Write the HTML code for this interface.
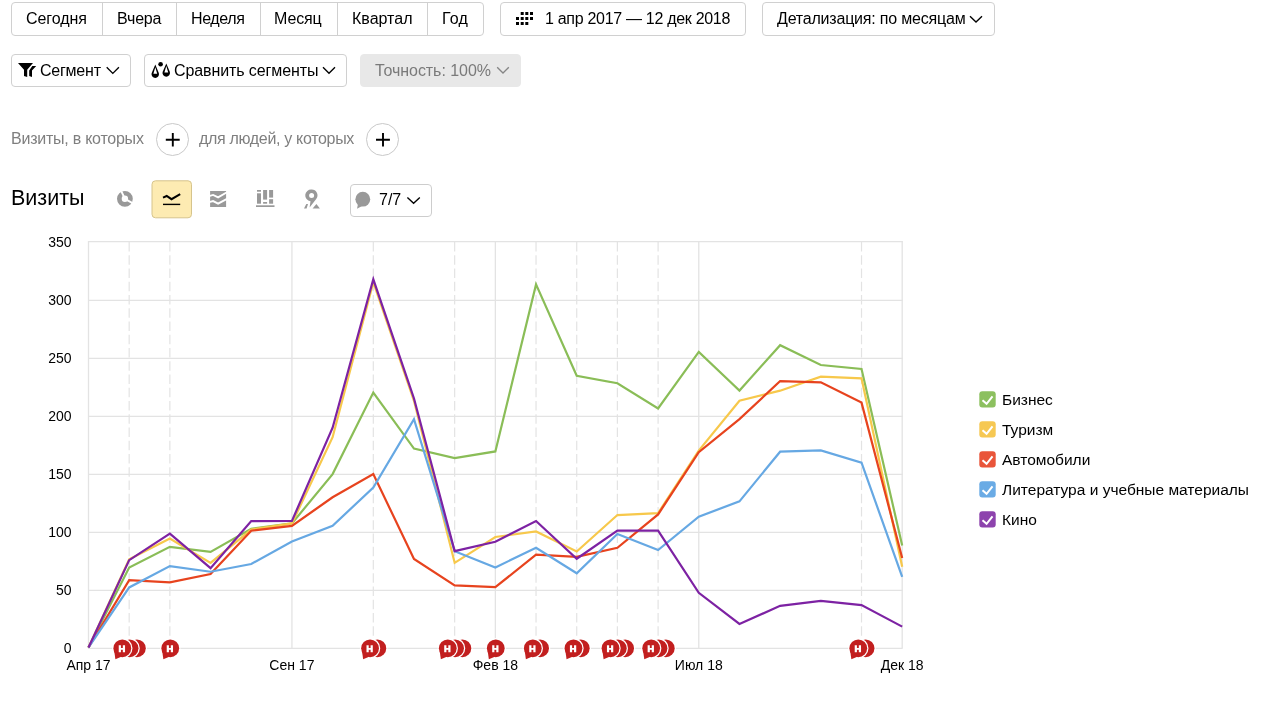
<!DOCTYPE html>
<html><head><meta charset="utf-8">
<style>
*{box-sizing:border-box;margin:0;padding:0}
html,body{width:1261px;height:725px;overflow:hidden;background:#fff}
body{position:relative;font-family:"Liberation Sans",sans-serif;color:#000;font-size:16px}
.abs{position:absolute;z-index:2}
.t{position:absolute;white-space:nowrap;line-height:1;z-index:2}
.box{position:absolute;border:1px solid #d0d0d0;border-radius:4px;background:#fff}
.dv{position:absolute;width:1px;background:#d0d0d0}
svg.chart{position:absolute;left:0;top:0}
.t,.lgt,svg.chart{will-change:transform}
.ax{font-family:"Liberation Sans",sans-serif;font-size:14px;fill:#000}
.gray{color:#7f7f7f}
.plus{position:absolute;width:33px;height:33px;border:1.2px solid #c9c9c9;border-radius:50%}
.lgt{position:absolute;left:1002px;font-size:15.5px;line-height:1;white-space:nowrap}
</style></head><body>
<!-- row1 boxes -->
<div class="box" style="left:11px;top:2px;width:473px;height:34px"></div>
<div class="dv" style="left:101.8px;top:3px;height:32px"></div>
<div class="dv" style="left:175.9px;top:3px;height:32px"></div>
<div class="dv" style="left:260px;top:3px;height:32px"></div>
<div class="dv" style="left:337px;top:3px;height:32px"></div>
<div class="dv" style="left:427px;top:3px;height:32px"></div>
<span class="t" style="left:25.7px;top:11px;letter-spacing:-0.07px">Сегодня</span>
<span class="t" style="left:116.7px;top:11px;letter-spacing:-0.17px">Вчера</span>
<span class="t" style="left:191.3px;top:11px;letter-spacing:-0.4px">Неделя</span>
<span class="t" style="left:274.3px;top:11px;letter-spacing:-0.12px">Месяц</span>
<span class="t" style="left:351.7px;top:11px">Квартал</span>
<span class="t" style="left:441.8px;top:11px;letter-spacing:0.2px">Год</span>
<div class="box" style="left:500px;top:2px;width:246px;height:34px"></div>
<svg class="abs" style="left:0;top:0" width="540" height="40" viewBox="0 0 540 40">
  <g fill="#000"><rect x="520.7" y="12" width="3" height="3"/><rect x="525.3" y="12" width="3" height="3"/><rect x="530" y="12" width="3" height="3"/><rect x="516" y="17" width="3" height="3"/><rect x="520.7" y="17" width="3" height="3"/><rect x="525.3" y="17" width="3" height="3"/><rect x="530" y="17" width="3" height="3"/><rect x="516" y="22" width="3" height="3"/><rect x="520.7" y="22" width="3" height="3"/><rect x="525.3" y="22" width="3" height="3"/></g>
</svg>
<span class="t" style="left:545px;top:11px;letter-spacing:-0.3px">1 апр 2017 — 12 дек 2018</span>
<div class="box" style="left:762px;top:2px;width:233px;height:34px"></div>
<span class="t" style="left:776.8px;top:11px;letter-spacing:-0.2px">Детализация: по месяцам</span>
<svg class="abs" style="left:0;top:0" width="1000" height="90" viewBox="0 0 1000 90">
  <g fill="none" stroke="#000" stroke-width="1.35">
  <path d="M970,16.3 L976,22 L982,16.3"/>
  <path d="M106.7,67.3 L112.8,73.4 L118.9,67.3"/>
  <path d="M323,67.3 L329,73.2 L335,67.3"/>
  </g>
  <path d="M497.2,67.3 L503,73 L508.8,67.3" fill="none" stroke="#858585" stroke-width="1.3"/>
</svg>
<!-- row2 -->
<div class="box" style="left:11px;top:54px;width:120px;height:33px"></div>
<svg class="abs" style="left:0;top:0" width="180" height="90" viewBox="0 0 180 90">
  <path d="M18,63 L33,63 L27.2,69.7 L27.2,77 L24,76 L24,69.7 Z" fill="#000"/>
  <path d="M32.3,66 L36.2,66 L32,70.4 L32,77 L29.2,76 L29.2,70.4 Z" fill="#000"/>
  <path fill-rule="evenodd" d="M155.3,64.6 L151.6,73.3 A3.75,3.75 0 1 0 158.9,73.3 Z M155.3,67.3 L153.4,73.8 L157.2,73.8 Z" fill="#000"/>
  <circle cx="160.6" cy="64.3" r="2.3" fill="#000"/>
  <path fill-rule="evenodd" d="M166.3,63.4 L162.6,72.1 A3.75,3.75 0 1 0 169.9,72.1 Z M166.3,66.1 L164.4,72.6 L168.2,72.6 Z" fill="#000"/>
</svg>
<span class="t" style="left:40px;top:63px;letter-spacing:-0.23px">Сегмент</span>
<div class="box" style="left:144px;top:54px;width:203px;height:33px"></div>
<span class="t" style="left:173.6px;top:63px;letter-spacing:-0.1px">Сравнить сегменты</span>
<div class="box" style="left:359.6px;top:54px;width:161.5px;height:33px;background:#e8e8e8;border-color:#e8e8e8"></div>
<span class="t" style="left:374.5px;top:63px;color:#7a7a7a;letter-spacing:-0.05px">Точность: 100%</span>
<!-- row3 -->
<span class="t gray" style="left:10.9px;top:131px;letter-spacing:-0.24px">Визиты, в которых</span>
<div class="plus" style="left:156.2px;top:122.8px"></div>
<span class="t gray" style="left:198.7px;top:131px;letter-spacing:-0.32px">для людей, у которых</span>
<div class="plus" style="left:366.4px;top:122.8px"></div>
<svg class="abs" style="left:0;top:0" width="420" height="160" viewBox="0 0 420 160">
  <path d="M165.8,139.7 H179.7 M172.8,133.1 V146.4" stroke="#000" stroke-width="1.9"/>
  <path d="M376,139.7 H389.9 M383,133.1 V146.4" stroke="#000" stroke-width="1.9"/>
</svg>
<!-- row4 -->
<span class="t" style="left:10.8px;top:188px;font-size:21.5px">Визиты</span>
<svg class="chart" width="1261" height="725" viewBox="0 0 1261 725">
<line x1="88" x2="902.7" y1="648.30" y2="648.30" stroke="#e3e3e3" stroke-width="1.3"/>
<line x1="88" x2="902.7" y1="590.30" y2="590.30" stroke="#e3e3e3" stroke-width="1.3"/>
<line x1="88" x2="902.7" y1="532.30" y2="532.30" stroke="#e3e3e3" stroke-width="1.3"/>
<line x1="88" x2="902.7" y1="474.30" y2="474.30" stroke="#e3e3e3" stroke-width="1.3"/>
<line x1="88" x2="902.7" y1="416.30" y2="416.30" stroke="#e3e3e3" stroke-width="1.3"/>
<line x1="88" x2="902.7" y1="358.30" y2="358.30" stroke="#e3e3e3" stroke-width="1.3"/>
<line x1="88" x2="902.7" y1="300.30" y2="300.30" stroke="#e3e3e3" stroke-width="1.3"/>
<line x1="88" x2="902.7" y1="241.60" y2="241.60" stroke="#e3e3e3" stroke-width="1.3"/>
<line x1="88.50" x2="88.50" y1="241" y2="648" stroke="#e3e3e3" stroke-width="1.3"/>
<line x1="291.93" x2="291.93" y1="241" y2="648" stroke="#e3e3e3" stroke-width="1.3"/>
<line x1="495.35" x2="495.35" y1="241" y2="648" stroke="#e3e3e3" stroke-width="1.3"/>
<line x1="698.78" x2="698.78" y1="241" y2="648" stroke="#e3e3e3" stroke-width="1.3"/>
<line x1="902.20" x2="902.20" y1="241" y2="648" stroke="#e3e3e3" stroke-width="1.3"/>
<line x1="129.19" x2="129.19" y1="242" y2="647" stroke="#e3e3e3" stroke-width="1.2" stroke-dasharray="9.5,3.75"/>
<line x1="169.87" x2="169.87" y1="242" y2="647" stroke="#e3e3e3" stroke-width="1.2" stroke-dasharray="9.5,3.75"/>
<line x1="373.30" x2="373.30" y1="242" y2="647" stroke="#e3e3e3" stroke-width="1.2" stroke-dasharray="9.5,3.75"/>
<line x1="454.67" x2="454.67" y1="242" y2="647" stroke="#e3e3e3" stroke-width="1.2" stroke-dasharray="9.5,3.75"/>
<line x1="536.04" x2="536.04" y1="242" y2="647" stroke="#e3e3e3" stroke-width="1.2" stroke-dasharray="9.5,3.75"/>
<line x1="576.72" x2="576.72" y1="242" y2="647" stroke="#e3e3e3" stroke-width="1.2" stroke-dasharray="9.5,3.75"/>
<line x1="617.40" x2="617.40" y1="242" y2="647" stroke="#e3e3e3" stroke-width="1.2" stroke-dasharray="9.5,3.75"/>
<line x1="658.09" x2="658.09" y1="242" y2="647" stroke="#e3e3e3" stroke-width="1.2" stroke-dasharray="9.5,3.75"/>
<line x1="861.52" x2="861.52" y1="242" y2="647" stroke="#e3e3e3" stroke-width="1.2" stroke-dasharray="9.5,3.75"/>
<text x="71.5" y="652.5" text-anchor="end" class="ax">0</text>
<text x="71.5" y="594.5" text-anchor="end" class="ax">50</text>
<text x="71.5" y="536.5" text-anchor="end" class="ax">100</text>
<text x="71.5" y="478.5" text-anchor="end" class="ax">150</text>
<text x="71.5" y="420.5" text-anchor="end" class="ax">200</text>
<text x="71.5" y="362.5" text-anchor="end" class="ax">250</text>
<text x="71.5" y="304.5" text-anchor="end" class="ax">300</text>
<text x="71.5" y="246.5" text-anchor="end" class="ax">350</text>
<text x="88.5" y="670" text-anchor="middle" class="ax">Апр 17</text>
<text x="291.9" y="670" text-anchor="middle" class="ax">Сен 17</text>
<text x="495.4" y="670" text-anchor="middle" class="ax">Фев 18</text>
<text x="698.8" y="670" text-anchor="middle" class="ax">Июл 18</text>
<text x="902.2" y="670" text-anchor="middle" class="ax">Дек 18</text>
<polyline points="88.50,647.50 129.19,567.46 169.87,546.81 210.56,551.92 251.24,528.72 291.93,523.38 332.61,474.08 373.30,392.53 413.98,448.56 454.67,458.07 495.35,451.46 536.04,284.42 576.72,375.71 617.40,383.25 658.09,408.42 698.78,351.93 739.46,390.56 780.14,345.20 820.83,365.04 861.52,368.98 902.20,545.42" fill="none" stroke="#8abd57" stroke-width="2.2" stroke-linejoin="miter"/>
<polyline points="88.50,647.50 129.19,559.34 169.87,538.46 210.56,562.82 251.24,529.53 291.93,523.38 332.61,437.19 373.30,282.10 413.98,400.77 454.67,562.82 495.35,536.95 536.04,531.50 576.72,551.45 617.40,515.03 658.09,513.06 698.78,450.65 739.46,400.77 780.14,390.68 820.83,376.64 861.52,378.38 902.20,566.65" fill="none" stroke="#f7c84b" stroke-width="2.2" stroke-linejoin="miter"/>
<polyline points="88.50,647.50 129.19,580.10 169.87,582.31 210.56,574.07 251.24,530.69 291.93,525.82 332.61,497.28 373.30,474.08 413.98,558.99 454.67,585.44 495.35,587.18 536.04,554.70 576.72,556.90 617.40,547.74 658.09,514.45 698.78,452.16 739.46,419.10 780.14,381.05 820.83,382.32 861.52,402.62 902.20,557.95" fill="none" stroke="#e7431e" stroke-width="2.2" stroke-linejoin="miter"/>
<polyline points="88.50,647.50 129.19,587.41 169.87,566.07 210.56,571.75 251.24,563.98 291.93,541.59 332.61,525.82 373.30,487.65 413.98,419.10 454.67,551.22 495.35,567.46 536.04,547.74 576.72,573.26 617.40,534.05 658.09,550.06 698.78,516.77 739.46,501.34 780.14,451.69 820.83,450.42 861.52,462.71 902.20,576.86" fill="none" stroke="#66a8e3" stroke-width="2.2" stroke-linejoin="miter"/>
<polyline points="88.50,647.50 129.19,560.15 169.87,533.59 210.56,568.16 251.24,521.06 291.93,520.94 332.61,427.68 373.30,279.32 413.98,398.45 454.67,551.10 495.35,541.71 536.04,521.06 576.72,558.76 617.40,530.57 658.09,530.57 698.78,592.86 739.46,623.95 780.14,605.86 820.83,600.98 861.52,605.04 902.20,626.62" fill="none" stroke="#7d22a3" stroke-width="2.2" stroke-linejoin="miter"/>
<defs><g id="mkb"><circle r="8.9" fill="#c21f1f" stroke="#fff" stroke-width="2.6"/><circle r="8.9" fill="#c21f1f"/></g><g id="mk"><g stroke="#fff" stroke-width="2.6" fill="#c21f1f"><circle r="8.9"/><path d="M-8,3.2 L-6.9,11 L-1,8.5 Z"/></g><circle r="8.9" fill="#c21f1f"/><path d="M-8,3.2 L-6.9,11 L-1,8.5 Z" fill="#c21f1f"/><path d="M-2.45,-3.1 V4.0 M1.65,-3.1 V4.0" stroke="#fff" stroke-width="2.2" fill="none"/><path d="M-2.45,0.6 H1.65" stroke="#fff" stroke-width="1.8"/></g></defs>
<use href="#mkb" x="136.89" y="648.3"/>
<use href="#mkb" x="129.59" y="648.3"/>
<use href="#mk" x="122.29" y="648.3"/>
<use href="#mk" x="170.27" y="648.3"/>
<use href="#mkb" x="377.35" y="648.3"/>
<use href="#mk" x="370.05" y="648.3"/>
<use href="#mkb" x="462.37" y="648.3"/>
<use href="#mkb" x="455.06" y="648.3"/>
<use href="#mk" x="447.76" y="648.3"/>
<use href="#mk" x="495.75" y="648.3"/>
<use href="#mkb" x="540.09" y="648.3"/>
<use href="#mk" x="532.79" y="648.3"/>
<use href="#mkb" x="580.77" y="648.3"/>
<use href="#mk" x="573.47" y="648.3"/>
<use href="#mkb" x="625.11" y="648.3"/>
<use href="#mkb" x="617.80" y="648.3"/>
<use href="#mk" x="610.50" y="648.3"/>
<use href="#mkb" x="665.79" y="648.3"/>
<use href="#mkb" x="658.49" y="648.3"/>
<use href="#mk" x="651.19" y="648.3"/>
<use href="#mkb" x="865.57" y="648.3"/>
<use href="#mk" x="858.27" y="648.3"/>
</svg><svg class="abs" style="left:0;top:0" width="440" height="225" viewBox="0 0 440 225">
  <!-- pie -->
  <circle cx="124.9" cy="198.8" r="5.55" fill="none" stroke="#999" stroke-width="4.7"/>
  <path d="M124.9,198.8 L121,190.5 M124.9,198.8 L133,203.3" stroke="#fff" stroke-width="1.9"/>
  <!-- active -->
  <rect x="152" y="180.8" width="39.5" height="37" rx="3.5" fill="#fdebb2" stroke="#d6c48c" stroke-width="1"/>
  <polyline points="163,197.6 166.7,196 171.5,199.2 180.2,194.2" fill="none" stroke="#000" stroke-width="2"/>
  <rect x="163" y="203.7" width="17.2" height="1.4" fill="#000"/>
  <!-- stacked -->
  <rect x="210.1" y="191" width="16" height="16" fill="#999"/>
  <polyline points="209,196.1 213.1,194.9 218.1,197.4 227,192.2" fill="none" stroke="#fff" stroke-width="1.9"/>
  <polyline points="209,202.2 213.1,201.1 218.1,203.7 227,198.8" fill="none" stroke="#fff" stroke-width="1.9"/>
  <!-- bars -->
  <g fill="#999">
    <rect x="257" y="190" width="4" height="1.7"/><rect x="257" y="193.3" width="4" height="10.4"/>
    <rect x="263.1" y="190" width="4" height="9.6"/><rect x="263.1" y="202" width="4" height="1.7"/>
    <rect x="269.1" y="190" width="4" height="7.6"/><rect x="269.1" y="199.2" width="4" height="4.5"/>
    <rect x="256" y="205.3" width="18.5" height="1.7"/>
  </g>
  <!-- map -->
  <g fill="#999">
    <path fill-rule="evenodd" d="M311.6,189.6 A5.8,5.8 0 0 1 316.2,199 L309.6,207.6 L310.5,201.2 A5.8,5.8 0 0 1 311.6,189.6 Z M311.6,192.9 A2.5,2.5 0 1 0 311.6,197.9 A2.5,2.5 0 1 0 311.6,192.9 Z"/>
    <path d="M304,208.5 L306.3,204 L308,204 L306.6,208.5 Z"/>
    <path d="M312.6,208.5 L316.4,204 L319.9,208.5 Z"/>
  </g>
</svg>
<div class="box" style="left:350px;top:184px;width:82px;height:32.5px;border-color:#cdcdcd"></div>
  <svg class="abs" style="left:350px;top:184px" width="40" height="33" viewBox="350 184 40 33">
    <circle cx="362.8" cy="199.2" r="7.4" fill="#999"/>
    <path d="M358,204 L357,208.8 L363,205.5 Z" fill="#999"/>
  </svg>
<span class="t" style="left:379px;top:192px">7/7</span>
<svg class="abs" style="left:0;top:0" width="440" height="225" viewBox="0 0 440 225"><path d="M407.4,197.4 L413.6,203.3 L419.8,197.4" fill="none" stroke="#000" stroke-width="1.35"/></svg>
<!-- legend -->
<svg class="abs" style="left:970px;top:380px" width="40" height="160" viewBox="970 380 40 160">
  <g stroke="#fff" stroke-width="2" fill="none">
  <rect x="979.3" y="391.2" width="16.4" height="16.4" rx="3" fill="#8cc05f" stroke="none"/>
  <polyline points="982.5,400.2 986.6,403.8 992.5,396.4"/>
  <rect x="979.3" y="421.2" width="16.4" height="16.4" rx="3" fill="#f6c853" stroke="none"/>
  <polyline points="982.5,430.2 986.6,433.8 992.5,426.4"/>
  <rect x="979.3" y="451.2" width="16.4" height="16.4" rx="3" fill="#e9553a" stroke="none"/>
  <polyline points="982.5,460.2 986.6,463.8 992.5,456.4"/>
  <rect x="979.3" y="481.2" width="16.4" height="16.4" rx="3" fill="#6aabe5" stroke="none"/>
  <polyline points="982.5,490.2 986.6,493.8 992.5,486.4"/>
  <rect x="979.3" y="511.2" width="16.4" height="16.4" rx="3" fill="#8d43ad" stroke="none"/>
  <polyline points="982.5,520.2 986.6,523.8 992.5,516.4"/>
  </g>
</svg>
<span class="lgt" style="top:392px">Бизнес</span>
<span class="lgt" style="top:422px">Туризм</span>
<span class="lgt" style="top:452px">Автомобили</span>
<span class="lgt" style="top:482px">Литература и учебные материалы</span>
<span class="lgt" style="top:512px">Кино</span>
</body></html>
